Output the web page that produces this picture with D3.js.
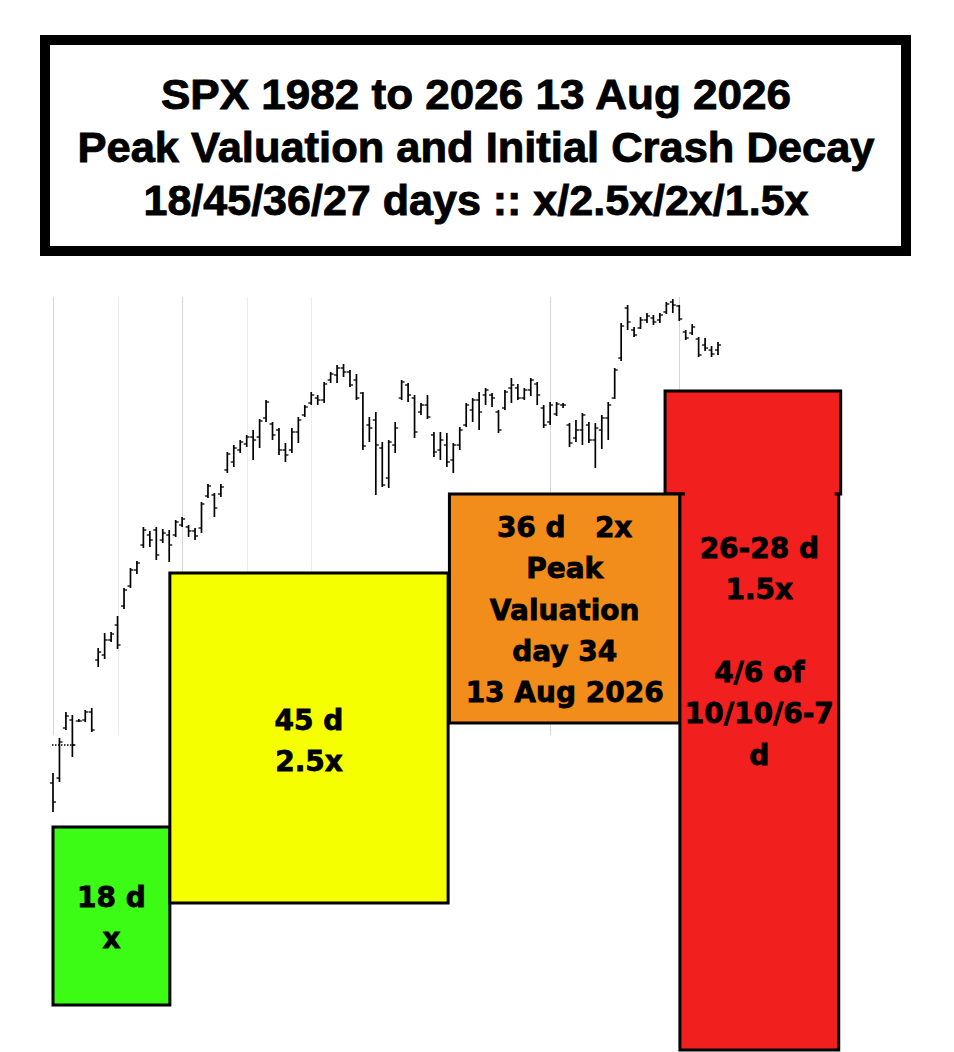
<!DOCTYPE html>
<head>
<meta charset="utf-8">
<style>
body { margin: 0; background: #fff; }
.title text { font: bold 43px "Liberation Sans", Arial, sans-serif; stroke: #000; stroke-width: 0.9px; }
.box text { font: bold 28px "DejaVu Sans", Verdana, sans-serif; white-space: pre; stroke: #000; stroke-width: 0.8px; }
.grid line { stroke: #d6d6d6; stroke-width: 1; }
.grid line.minor { stroke: #ececec; }
.bar line { stroke: #000; }
</style>
<title>SPX Peak Valuation and Initial Crash Decay</title>
</head>
<body>
<svg width="954" height="1052"></svg>
<script src="https://d3js.org/d3.v7.min.js"></script>
<script>
/* global d3 */
// daily bars, one per trading day
var highs  = [5108,5248,5352,5340,5324,5360,5368,5608,5668,5672,5736,5848,5928,5956,6092,6076,6092,6084,6080,6120,
              6132,6100,6088,6192,6264,6228,6264,6392,6420,6440,6460,6480,6524,6600,6512,6488,6428,6488,6532,6580,
              6632,6620,6672,6712,6740,6744,6720,6704,6632,6532,6552,6432,6440,6512,6680,6668,6620,6588,6620,6472,
              6472,6468,6428,6492,6588,6608,6632,6648,6628,6560,6640,6688,6664,6648,6688,6672,6580,6592,6592,6588,
              6508,6520,6548,6512,6508,6540,6592,6728,6908,6980,6892,6932,6948,6940,6948,6992,7004,6980,6880,6904,
              6852,6848,6816,6832]
var lows   = [4952,5072,5280,5172,5312,5312,5272,5532,5564,5632,5604,5764,5848,5904,6008,6012,5960,6028,5952,6052,
              6092,6052,6040,6068,6208,6132,6212,6308,6332,6388,6412,6360,6408,6512,6440,6380,6352,6388,6428,6532,
              6580,6580,6588,6668,6668,6692,6652,6600,6400,6432,6220,6252,6248,6388,6600,6592,6448,6540,6524,6372,
              6360,6332,6308,6400,6492,6512,6480,6580,6572,6468,6560,6588,6600,6600,6616,6580,6488,6500,6536,6568,
              6412,6432,6420,6428,6328,6404,6440,6604,6756,6880,6852,6884,6908,6900,6908,6944,6948,6916,6840,6860,
              6772,6796,6772,6780]
var opens  = [5068,5088,5288,5320,5316,5320,5352,5560,5580,5640,5700,5776,5856,5920,6020,6060,6080,6040,6060,6060,
              6100,6092,6076,6088,6216,6220,6224,6320,6352,6400,6424,6452,6452,6528,6504,6480,6400,6400,6472,6540,
              6588,6608,6600,6680,6700,6728,6712,6680,6628,6500,6520,6408,6288,6420,6608,6660,6608,6552,6580,6460,
              6400,6420,6360,6420,6500,6560,6600,6620,6620,6552,6568,6648,6648,6608,6640,6664,6568,6512,6544,6580,
              6500,6448,6480,6500,6440,6480,6528,6608,6768,6968,6880,6888,6920,6928,6920,6952,6992,6976,6872,6868,
              6844,6820,6800,6800]
var closes = [4992,5232,5336,5220,5316,5352,5280,5592,5640,5664,5620,5840,5920,5948,6080,6040,5980,6068,6020,6112,
              6124,6076,6056,6184,6256,6168,6252,6384,6408,6432,6452,6440,6516,6592,6460,6400,6380,6472,6520,6572,
              6620,6600,6664,6704,6728,6712,6660,6608,6416,6488,6420,6260,6432,6488,6672,6620,6472,6580,6532,6392,
              6440,6352,6420,6480,6580,6600,6552,6640,6608,6480,6632,6660,6608,6640,6680,6620,6500,6580,6584,6580,
              6428,6480,6540,6440,6488,6528,6580,6720,6896,6912,6860,6920,6936,6912,6940,6984,6980,6924,6848,6892,
              6780,6808,6784,6820]
var gridDays = [0, 20, 77, 97]
var minorGridDays = [10, 30, 40]
var dottedLevel = {from: 0, to: 3.4, price: 5220}

var titleLines = ["SPX 1982 to 2026 13 Aug 2026",
                  "Peak Valuation and Initial Crash Decay",
                  "18/45/36/27 days :: x/2.5x/2x/1.5x"]
var titleWidths = [630, 797, 665]

var greenLabel  = ["18 d", "x"]
var yellowLabel = ["45 d", "2.5x"]
var orangeLabel = ["36 d   2x", "Peak", "Valuation", "day 34", "13 Aug 2026"]
var redLabel    = ["26-28 d", "1.5x", "", "4/6 of", "10/10/6-7", "d"]

var svg = d3.select("svg")

var x = d3.scaleLinear().domain([0, highs.length - 1]).range([53, 718]),
    y = d3.scaleLinear().domain([5000, 7000]).range([800, 300])

// title box
var t = svg.append("g").attr("class", "title")
t.append("rect")
    .attr("x", 45).attr("y", 40).attr("width", 861).attr("height", 211)
    .attr("fill", "#fff").attr("stroke", "#000").attr("stroke-width", 10)
t.selectAll("text")
  .data(titleLines)
  .enter().append("text")
    .attr("x", 476)
    .attr("y", (d, i) => 109 + i * 53)
    .attr("text-anchor", "middle")
    .attr("textLength", (d, i) => titleWidths[i])
    .attr("lengthAdjust", "spacingAndGlyphs")
    .text(d => d)

// grid
var grid = svg.append("g").attr("class", "grid")
grid.selectAll("line.minor")
  .data(minorGridDays)
  .enter().append("line")
    .attr("class", "minor")
    .attr("x1", d => Math.round(x(d)) + 0.5).attr("x2", d => Math.round(x(d)) + 0.5)
    .attr("y1", 297).attr("y2", 735)
grid.selectAll("line.major")
  .data(gridDays)
  .enter().append("line")
    .attr("class", "major")
    .attr("x1", d => Math.round(x(d)) + 0.5).attr("x2", d => Math.round(x(d)) + 0.5)
    .attr("y1", 297).attr("y2", 735)

// OHLC bars
var bars = svg.append("g").attr("class", "bar")
  .selectAll("g")
  .data(highs.map((h, i) => ({i: i, h: h, l: lows[i], o: opens[i], c: closes[i]})))
  .enter().append("g")
bars.append("line")
    .attr("x1", d => x(d.i)).attr("x2", d => x(d.i))
    .attr("y1", d => y(d.h)).attr("y2", d => y(d.l))
    .attr("stroke-width", 1.7)
bars.append("line")
    .attr("x1", d => x(d.i) - 3).attr("x2", d => x(d.i))
    .attr("y1", d => y(d.o)).attr("y2", d => y(d.o))
    .attr("stroke-width", 1.3)
bars.append("line")
    .attr("x1", d => x(d.i)).attr("x2", d => x(d.i) + 3)
    .attr("y1", d => y(d.c)).attr("y2", d => y(d.c))
    .attr("stroke-width", 1.3)

svg.append("line")
    .attr("x1", x(dottedLevel.from) - 1).attr("x2", x(dottedLevel.to))
    .attr("y1", y(dottedLevel.price)).attr("y2", y(dottedLevel.price))
    .attr("stroke", "#000").attr("stroke-width", 1.5)
    .attr("stroke-dasharray", "1.5,1.5")

// day-count boxes (day index, price)
var boxes = [
  {x0: 0,    x1: 18.1,  top: 4892, bottom: 4180, fill: "#3cfb14", label: greenLabel,  dy: 80},
  {x0: 18.1, x1: 61.2,  top: 5908, bottom: 4588, fill: "#f6ff00", label: yellowLabel, dy: 157},
  {x0: 61.4, x1: 97.1,  top: 6224, bottom: 5308, fill: "#f28c1b", label: orangeLabel, dy: 43},
  {x0: 97.1, x1: 121.7, top: 6224, bottom: 4000, fill: "#f21f1f", label: redLabel,    dy: 64}
]
var redTop = {x0: 94.8, x1: 122, top: 6636, bottom: 6224}

var g = svg.append("g").attr("class", "box")

g.append("rect")
    .attr("x", x(redTop.x0)).attr("y", y(redTop.top))
    .attr("width", x(redTop.x1) - x(redTop.x0))
    .attr("height", y(redTop.bottom) - y(redTop.top))
    .attr("fill", "#f21f1f").attr("stroke", "#000").attr("stroke-width", 3)

g.selectAll("rect.b")
  .data(boxes)
  .enter().append("rect")
    .attr("class", "b")
    .attr("x", d => x(d.x0)).attr("y", d => y(d.top))
    .attr("width", d => x(d.x1) - x(d.x0))
    .attr("height", d => y(d.bottom) - y(d.top))
    .attr("fill", d => d.fill)
    .attr("stroke", "#000").attr("stroke-width", 3)

// join the two red parts
g.append("rect")
    .attr("x", x(97.1) + 5).attr("y", y(redTop.bottom) - 3)
    .attr("width", x(121.7) - x(97.1) - 9).attr("height", 6)
    .attr("fill", "#f21f1f")

boxes.forEach(function(b) {
  g.selectAll(null)
    .data(b.label)
    .enter().append("text")
      .attr("x", (x(b.x0) + x(b.x1)) / 2)
      .attr("y", (d, i) => y(b.top) + b.dy + i * 41.3)
      .attr("text-anchor", "middle")
      .attr("fill", "#000")
      .text(d => d)
})
</script>
</body>
